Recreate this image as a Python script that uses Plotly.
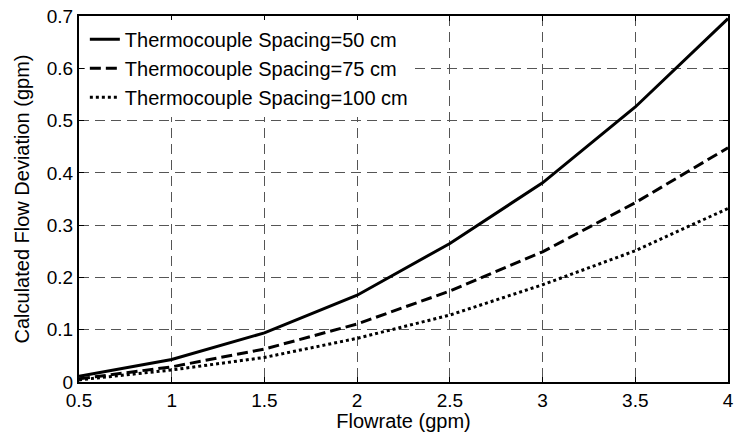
import plotly.graph_objects as go

flowrate = [0.5, 1.0, 1.5, 2.0, 2.5, 3.0, 3.5, 4.0]
dev_50 = [0.011, 0.043, 0.094, 0.166, 0.265, 0.381, 0.526, 0.695]
dev_75 = [0.006, 0.029, 0.063, 0.111, 0.174, 0.249, 0.343, 0.448]
dev_100 = [0.004, 0.023, 0.047, 0.0835, 0.128, 0.186, 0.251, 0.332]

names = ["Thermocouple Spacing=50 cm", "Thermocouple Spacing=75 cm", "Thermocouple Spacing=100 cm"]
series = [dev_50, dev_75, dev_100]
dashes = ["solid", "11px,5px", "3px,3px"]

x_ticks = [0.5, 1, 1.5, 2, 2.5, 3, 3.5, 4]
x_labels = ["0.5", "1", "1.5", "2", "2.5", "3", "3.5", "4"]
y_ticks = [0, 0.1, 0.2, 0.3, 0.4, 0.5, 0.6, 0.7]
y_labels = ["0", "0.1", "0.2", "0.3", "0.4", "0.5", "0.6", "0.7"]

FONT = "Arial, Liberation Sans, sans-serif"

fig = go.Figure()
for nm, ys, d in zip(names, series, dashes):
    fig.add_trace(go.Scatter(
        x=flowrate, y=ys, mode="lines", name=nm,
        line=dict(color="black", width=3, dash=d),
    ))

axis_common = dict(
    showline=True, linecolor="black", linewidth=2, mirror="ticks",
    ticks="inside", ticklen=5, tickcolor="black", tickwidth=1,
    showgrid=True, gridcolor="#555555", gridwidth=1, griddash="10px,6px",
    zeroline=False, tickfont=dict(family=FONT, size=19, color="black"),
)

fig.update_xaxes(
    range=[0.5, 4], tickvals=x_ticks, ticktext=x_labels,
    title=dict(text="Flowrate (gpm)", font=dict(family=FONT, size=20, color="black"), standoff=0),
    **axis_common,
)
fig.update_yaxes(
    range=[0, 0.7], tickvals=y_ticks, ticktext=y_labels,
    title=dict(text="Calculated Flow Deviation (gpm)", font=dict(family=FONT, size=20, color="black"), standoff=12),
    **axis_common,
)

fig.update_layout(
    width=740, height=432,
    margin=dict(l=79, r=6, t=16, b=50),
    paper_bgcolor="white", plot_bgcolor="white",
    font=dict(family=FONT, size=20, color="black"),
    showlegend=True,
    legend=dict(
        x=0.009, y=0.99, xanchor="left", yanchor="top",
        bgcolor="white", borderwidth=0,
        font=dict(family=FONT, size=20, color="black"),
    ),
)

fig.write_html("out.html")
